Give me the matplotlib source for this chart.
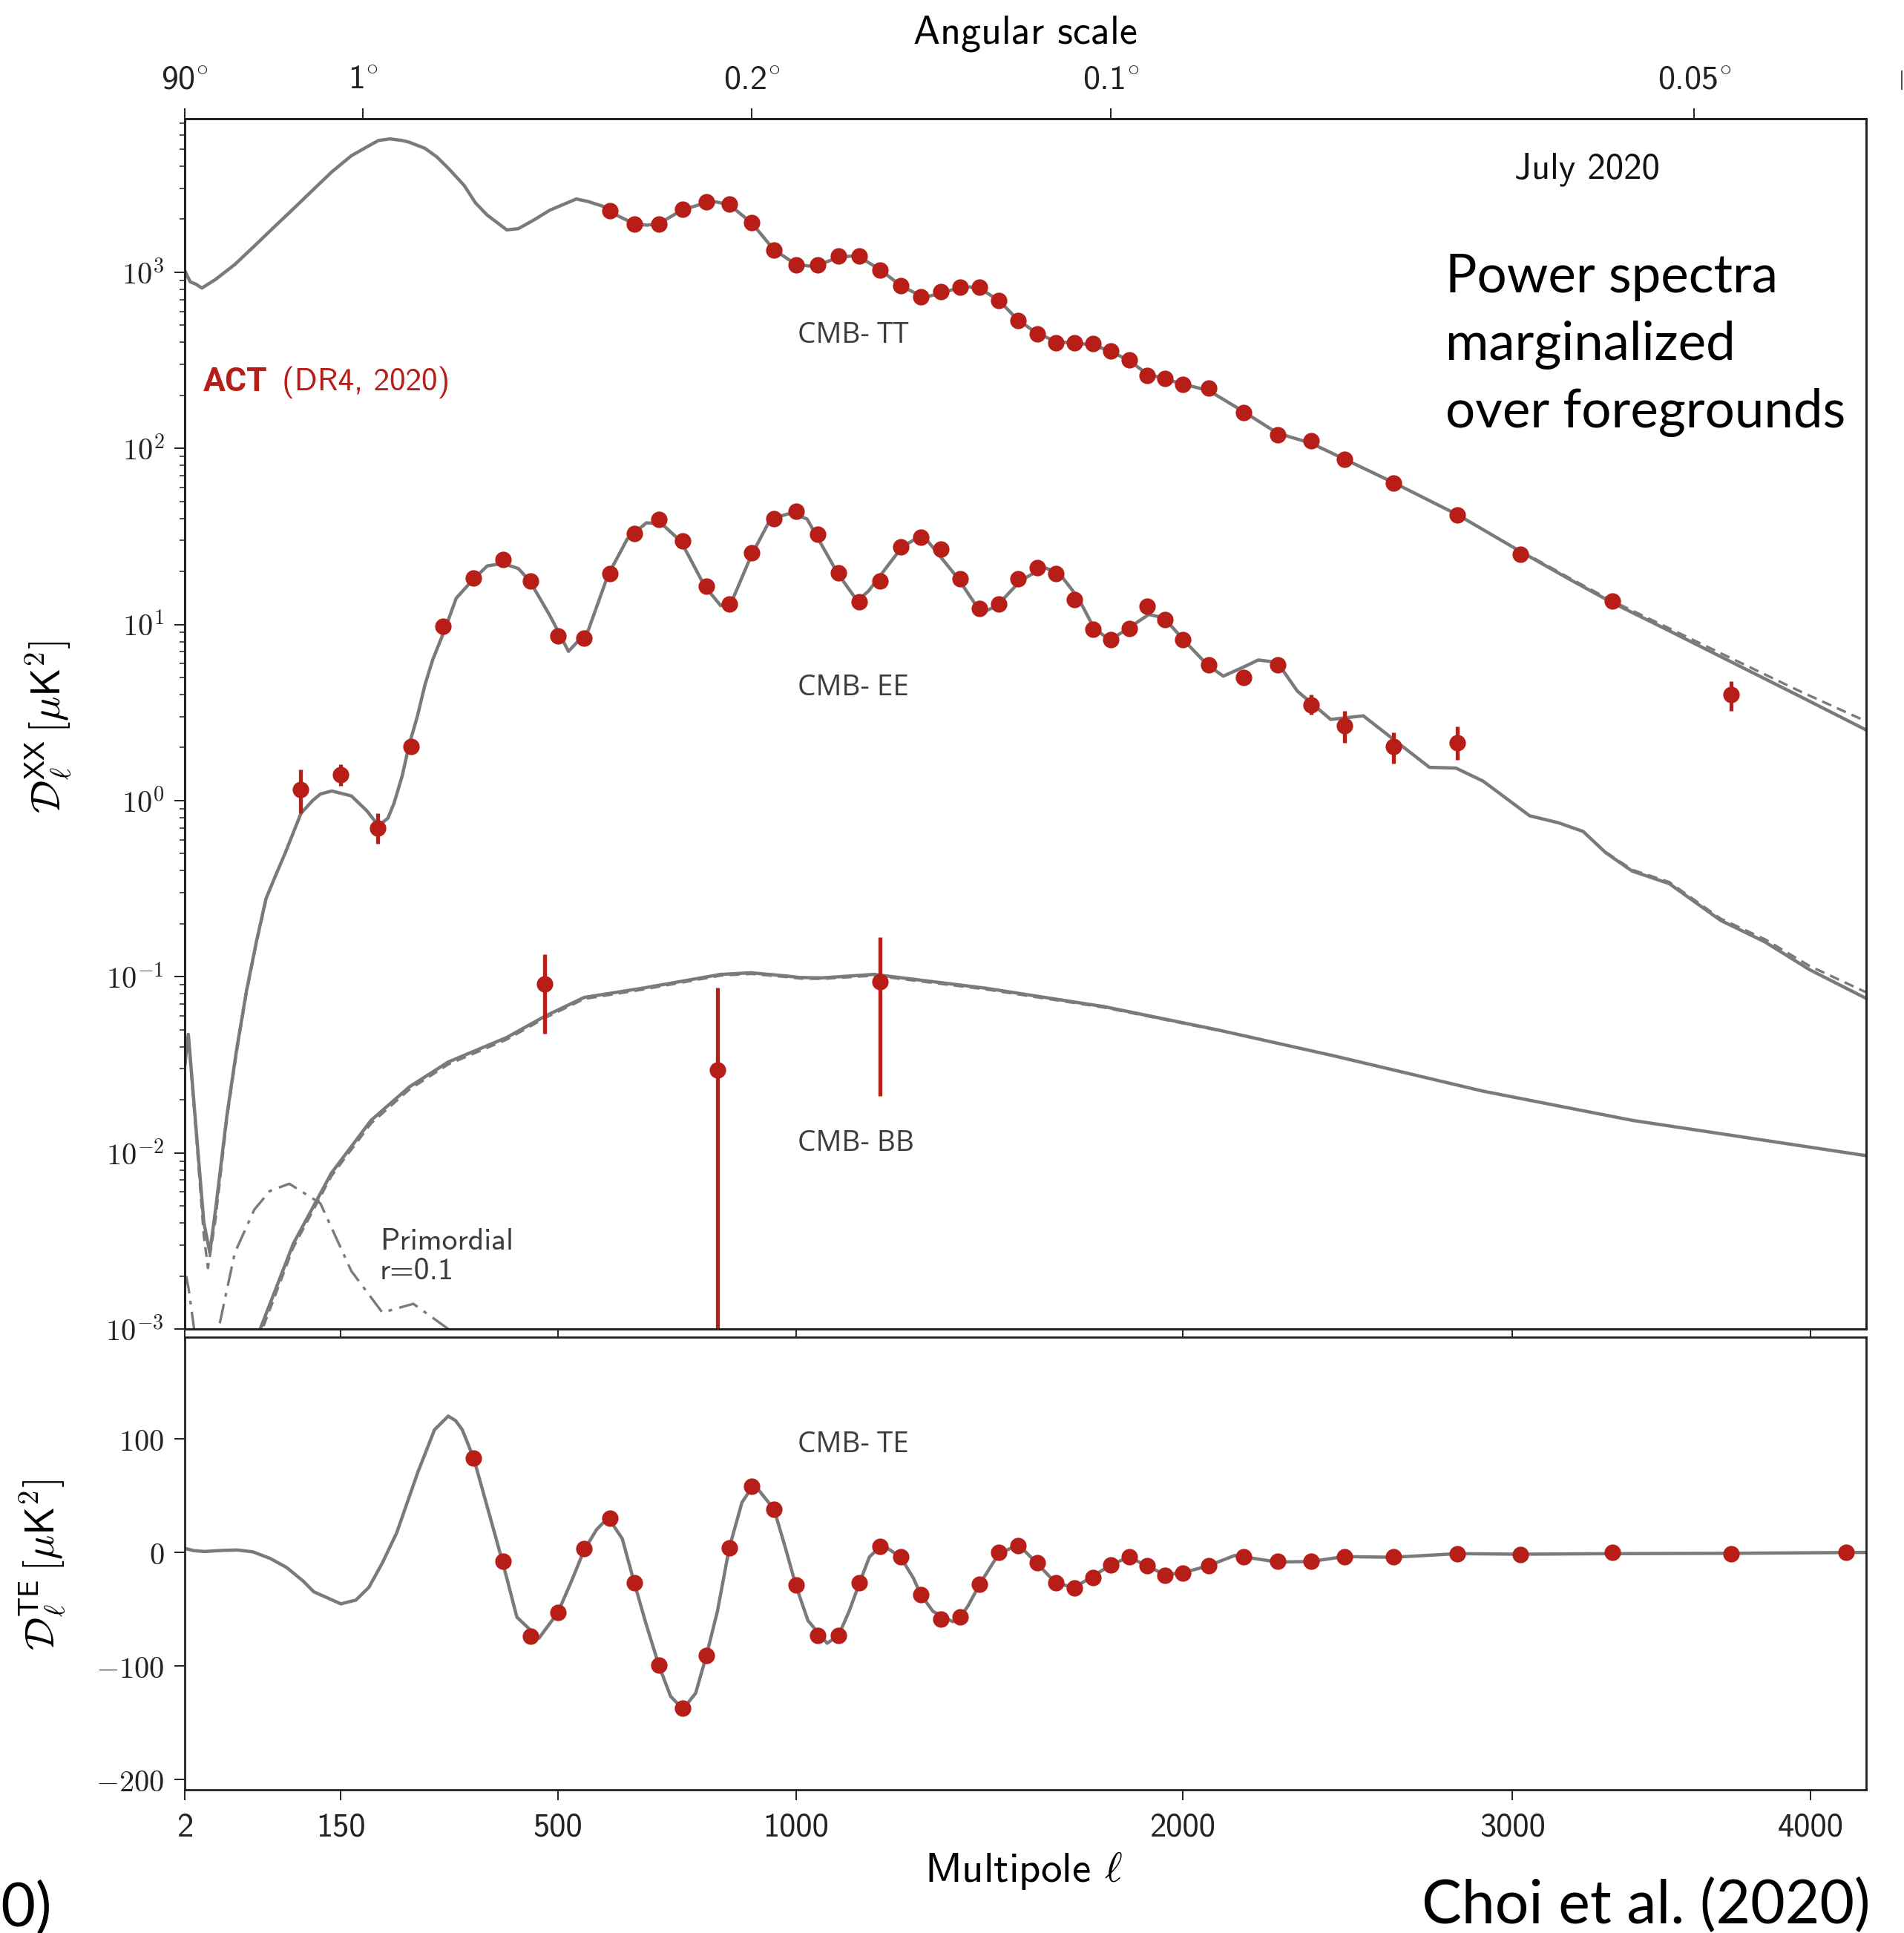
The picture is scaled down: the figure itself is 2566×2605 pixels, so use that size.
import numpy as np
import matplotlib
matplotlib.use('Agg')
import matplotlib.pyplot as plt
from matplotlib.lines import Line2D
from matplotlib.ticker import FixedLocator, FuncFormatter, LogLocator, NullFormatter

plt.rcParams['mathtext.fontset'] = 'cm'
plt.rcParams['font.family'] = ['DejaVu Sans']

W, H = 2566, 2605
RED = '#b81e18'
GREY = '#7a7a7a'
TXT = '#3c3c3c'
SANS = ['cmss10', 'DejaVu Sans']

# ---------------- ACT DR4 band powers ----------------
tt_l = [600, 650, 700, 750, 800, 850, 900, 950, 1000, 1050, 1100, 1150, 1200, 1250,
        1300, 1350, 1400, 1450, 1500, 1550, 1600, 1650, 1700, 1750, 1800, 1850, 1900,
        1950, 2000, 2075, 2175, 2275, 2375, 2475, 2625, 2825, 3025, 3325]
tt_d = [2238, 1875, 1875, 2275, 2506, 2427, 1905, 1337, 1101, 1101, 1233, 1233, 1033, 837,
        725, 773, 824, 824, 691, 533, 447, 399, 399, 393, 357, 318, 259,
        250, 231, 220, 160, 119, 110, 86.5, 63.7, 41.9, 25.0, 13.6]

ee_l = [100, 150, 200, 250, 300, 350, 400, 450, 500, 550, 600, 650, 700, 750, 800, 850,
        900, 950, 1000, 1050, 1100, 1150, 1200, 1250, 1300, 1350, 1400, 1450, 1500, 1550,
        1600, 1650, 1700, 1750, 1800, 1850, 1900, 1950, 2000, 2075, 2175, 2275, 2375,
        2475, 2625, 2825, 3725]
ee_d = [1.16, 1.40, 0.70, 2.03, 9.8, 18.4, 23.5, 17.6, 8.65, 8.37, 19.4, 32.9, 39.3, 29.9,
        16.5, 13.1, 25.5, 39.9, 44.0, 32.4, 19.7, 13.4, 17.6, 27.6, 31.4, 26.7, 18.2, 12.3,
        13.1, 18.2, 21.0, 19.4, 13.8, 9.38, 8.24, 9.53, 12.7, 10.7, 8.24, 5.88, 5.00, 5.88,
        3.51, 2.67, 2.03, 2.13, 3.99]
ee_lo = [0.85, 1.21, 0.57, 2.03, 9.8, 18.4, 23.5, 17.6, 8.65, 8.37, 19.4, 32.9, 39.3, 29.9,
         16.5, 13.1, 25.5, 39.9, 44.0, 32.4, 19.7, 13.4, 17.6, 27.6, 31.4, 26.7, 18.2, 12.3,
         13.1, 18.2, 21.0, 19.4, 13.8, 9.38, 8.24, 9.53, 12.7, 10.7, 8.24, 5.88, 5.00, 5.88,
         3.09, 2.13, 1.62, 1.70, 3.24]
ee_hi = [1.50, 1.60, 0.85, 2.03, 9.8, 18.4, 23.5, 17.6, 8.65, 8.37, 19.4, 32.9, 39.3, 29.9,
         16.5, 13.1, 25.5, 39.9, 44.0, 32.4, 19.7, 13.4, 17.6, 27.6, 31.4, 26.7, 18.2, 12.3,
         13.1, 18.2, 21.0, 19.4, 13.8, 9.38, 8.24, 9.53, 12.7, 10.7, 8.24, 5.88, 5.00, 5.88,
         3.99, 3.24, 2.43, 2.63, 4.77]

bb_l = [475, 824, 1200]
bb_d = [0.0908, 0.0294, 0.0938]
bb_lo = [0.0477, 1e-6, 0.0210]
bb_hi = [0.134, 0.0865, 0.1675]

te_l = [350, 400, 450, 500, 550, 600, 650, 700, 750, 800, 850, 900, 950, 1000, 1050,
        1100, 1150, 1200, 1250, 1300, 1350, 1400, 1450, 1500, 1550, 1600, 1650, 1700,
        1750, 1800, 1850, 1900, 1950, 2000, 2075, 2175, 2275, 2375, 2475, 2625, 2825,
        3025, 3325, 3725, 4125]
te_d = [83, -8, -74, -53, 3, 30, -27, -99, -137, -91, 4, 58, 38, -29, -73,
        -73, -27, 5, -4, -37, -59, -57, -28, 0, 6, -9, -27, -31,
        -22, -11, -4, -12, -20, -18, -12, -4, -8, -8, -4, -4, -1,
        -2, 0, -1, 0]

# ---------------- best-fit theory curves ----------------
tt_th_l = [2, 4.2, 7.1, 10.3, 13.9, 19.1, 34, 51.5, 70.8, 91.9, 114.5, 138.4, 164, 190.6,
           201.5, 218, 236, 247, 271, 289.6, 308, 334, 353, 373, 407, 427.5, 456, 485, 535,
           558, 588, 600, 650, 675, 700, 750, 800, 820, 850, 900, 950, 1000, 1030, 1050,
           1100, 1130, 1150, 1200, 1250, 1300, 1320, 1350, 1400, 1425, 1450, 1500, 1550,
           1600, 1650, 1700, 1750, 1800, 1850, 1900, 1950, 2000, 2075, 2175, 2275,
           2375, 2475, 2625, 2825, 3025, 3181, 3325, 3499, 3695, 3960, 4200]
tt_th_d = [1021, 882, 854, 813, 854, 910, 1107, 1409, 1798, 2287, 2919, 3715, 4590, 5297,
           5600, 5714, 5600, 5470, 5050, 4520, 3897, 3113, 2477, 2111, 1740, 1767, 1983, 2251,
           2606, 2519, 2361, 2200, 1880, 1850, 1890, 2270, 2480, 2510, 2420, 1900, 1340, 1110,
           1085, 1095, 1215, 1235, 1220, 1035, 840, 735, 730, 760, 820, 825, 810, 690, 535,
           450, 405, 395, 388, 355, 315, 265, 248, 232, 213, 162, 122,
           107, 87, 64, 42, 26, 18.2, 13.3, 9.5, 6.5, 3.93, 2.5]
tt_dash_l = [3025, 3181, 3325, 3499, 3695, 3960, 4200]
tt_dash_d = [26.3, 18.5, 13.6, 9.8, 6.8, 4.2, 2.8]

ee_th_l = [2, 3.4, 7.1, 11.4, 15.2, 19.1, 27.7, 35.5, 44.1, 53.3, 62.8, 72, 83.1, 100.8, 114.5,
           124, 138.4, 164, 185, 201.5, 215, 224, 236, 247, 259, 271, 283, 302, 321, 347, 373,
           400, 427.5, 448, 485, 520, 558, 596, 635, 674, 706, 746, 796,
           831, 856, 898, 942, 990, 1026, 1098, 1145, 1172, 1253, 1287, 1316, 1394, 1454,
           1495, 1556, 1618, 1660, 1711, 1753, 1797, 1850, 1905, 1948, 2004, 2071, 2117,
           2173, 2219, 2275, 2334, 2434, 2533, 2629, 2737, 2820, 2906, 3055, 3149, 3229,
           3304, 3391, 3515, 3689, 3842, 3997, 4200]
ee_th_d = [0.0316, 0.0471, 0.0135, 0.00404, 0.00271, 0.00476, 0.01655, 0.0385, 0.0827, 0.157,
           0.277, 0.368, 0.505, 0.847, 1.0, 1.09, 1.134, 1.063, 0.876, 0.721, 0.794, 0.965,
           1.375, 2.10, 2.99, 4.55, 6.29, 9.27, 14.1, 17.7, 21.5, 22.2, 20.8, 17.7, 11.25, 7.04,
           9.27, 18.9, 30.6, 37.8, 37.2, 29.6, 16.6, 12.8, 13.6, 24.4, 39.7, 43.0, 39.7, 19.5,
           13.6, 15.5, 27.4, 30.6, 30.1, 18.3, 11.6, 12.8, 17.7, 21.1, 19.5, 14.1, 9.58, 8.14,
           9.58, 11.4, 10.9, 8.14, 5.90, 5.09, 5.70, 6.29, 6.09, 4.19, 2.89, 3.03, 2.20, 1.545,
           1.53, 1.29, 0.820, 0.748, 0.668, 0.505, 0.398, 0.338, 0.209, 0.1575, 0.1096, 0.0748]
ee_dash_lo_l = [2, 3.4, 7.1, 11.4, 14, 19.1, 27.7, 35.5, 44.1, 53.3, 62.8]
ee_dash_lo_d = [0.030, 0.045, 0.0125, 0.0034, 0.00222, 0.0042, 0.0158, 0.037, 0.080, 0.153, 0.27]
ee_dash_hi_l = [3304, 3391, 3515, 3689, 3842, 3997, 4200]
ee_dash_hi_d = [0.51, 0.405, 0.345, 0.214, 0.163, 0.115, 0.081]

bb_th_l = [45, 55, 92, 138, 191, 247, 308, 407, 477, 550, 666, 831, 898, 976, 1010, 1060,
           1185, 1465, 1782, 2099, 2445, 2906, 3391, 4200]
bb_th_d = [0.0005, 0.00093, 0.00305, 0.0077, 0.0153, 0.0237, 0.0328, 0.0452, 0.0599, 0.0763,
           0.0861, 0.1031, 0.1053, 0.1011, 0.0990, 0.0985, 0.1031, 0.0861, 0.0676, 0.0500,
           0.0355, 0.0224, 0.0153, 0.00962]
bb_dash_l = [45, 55, 92, 138, 191, 247, 308, 407, 477, 550, 666, 831, 898, 976, 1010, 1060,
             1185, 1465, 1782, 2099]
bb_dash_d = [0.00046, 0.00086, 0.0029, 0.0074, 0.0147, 0.0229, 0.0318, 0.0440, 0.0585,
             0.0748, 0.0845, 0.1015, 0.1038, 0.0997, 0.0977, 0.0972, 0.1015, 0.0848, 0.0668,
             0.0497]

prim_l = [2, 2.6, 3.5, 6.05, 7.5, 15, 20.4, 34, 51.5, 66.7, 87.5, 124, 164, 207, 253, 308, 340]
prim_d = [0.0019, 0.00197, 0.0017, 0.001, 0.0006, 0.0006, 0.00093, 0.00271, 0.00477, 0.00607,
          0.00668, 0.00517, 0.00213, 0.00124, 0.00139, 0.001, 0.0007]

te_th_l = [2, 6, 12, 25, 36, 50, 67, 84.6, 103, 116, 150, 170, 188, 207, 228, 260, 286, 308,
           320, 331, 350, 377, 400, 425, 465, 500, 526, 550, 574, 597, 625, 650, 673, 700,
           724, 750, 777, 800, 824, 850, 878, 905, 950, 976, 1000, 1028, 1073, 1100, 1125,
           1150, 1174, 1205, 1250, 1282, 1300, 1331, 1381, 1400, 1420, 1450, 1483, 1500,
           1551, 1600, 1650, 1700, 1750, 1800, 1850, 1900, 1950, 2000, 2075, 2150, 2275,
           2375, 2475, 2625, 2825, 3025, 3325, 3725, 4200]
te_th_d = [3.5, 1.5, 0.8, 1.8, 2.1, 0.5, -5.3, -13.3, -25, -34.7, -45.3, -42, -30.7, -9.3, 17.3,
           70.7, 108, 120, 116, 108, 83, 33, -9, -57, -75.5, -53, -25, 2, 20, 30.7, 12, -28,
           -62.7, -100, -126.7, -138, -124, -91, -52, 4, 44, 60, 38, 4, -29, -60, -80, -73,
           -52, -27, -4, 6.7, -4, -22.7, -37, -52, -61, -57, -47, -28, -10, -1,
           6.7, -9.6, -27, -31, -21, -11, -4, -12, -19.5, -18, -11.7, -2.7, -8.5,
           -8, -3.7, -4.3, -1.1, -1.6, -1.1, -0.8, 0]

ell_ticks = [2, 150, 500, 1000, 2000, 3000, 4000]
ang_ticks = [2, 180, 900, 1800, 3600]
ang_labels = ['90', '1', '0.2', '0.1', '0.05']


def fwd(x):
    x = np.asarray(x, dtype=float)
    return np.sign(x) * np.abs(x) ** 0.7


def inv(u):
    u = np.asarray(u, dtype=float)
    return np.sign(u) * np.abs(u) ** (1 / 0.7)


def fx(px):
    return px / W


def fy(py):
    return 1 - py / H


fig = plt.figure(figsize=(W / 100, H / 100), dpi=100)
ax = fig.add_axes([fx(249), fy(1791), (2515 - 249) / W, (1791 - 160) / H])
bx = fig.add_axes([fx(249), fy(2412), (2515 - 249) / W, (2412 - 1802) / H])

for a in (ax, bx):
    a.set_xscale('function', functions=(fwd, inv))
    a.set_xlim(2, 4196)
    a.xaxis.set_major_locator(FixedLocator(ell_ticks))
    for s in a.spines.values():
        s.set_linewidth(2.0)
        s.set_color('#222222')
    a.tick_params(axis='both', which='major', direction='out', length=10, width=1.4,
                  colors='#222222')
    a.tick_params(axis='both', which='minor', direction='out', length=5, width=1.1,
                  colors='#222222')

lw_th = 3.2
dash = (0, (4, 2.5))

# ---- top panel ----
ax.set_yscale('log')
ax.set_ylim(1e-3, 7440)
ax.yaxis.set_major_locator(FixedLocator([1e-3, 1e-2, 1e-1, 1, 10, 100, 1000]))
ax.yaxis.set_major_formatter(FuncFormatter(lambda v, p: r'$10^{%d}$' % round(np.log10(v))))
ax.yaxis.set_minor_locator(LogLocator(base=10, subs=np.arange(2, 10)))
ax.yaxis.set_minor_formatter(NullFormatter())
ax.tick_params(axis='y', labelsize=29, pad=10)
ax.set_xticklabels([])

ax.plot(tt_dash_l, tt_dash_d, color=GREY, lw=2.4, ls=dash, zorder=1)
ax.plot(ee_dash_lo_l, ee_dash_lo_d, color=GREY, lw=2.4, ls=dash, zorder=1)
ax.plot(ee_dash_hi_l, ee_dash_hi_d, color=GREY, lw=2.4, ls=dash, zorder=1)
ax.plot(bb_dash_l, bb_dash_d, color=GREY, lw=2.4, ls=dash, zorder=1)
ax.plot(tt_th_l, tt_th_d, color=GREY, lw=lw_th, zorder=2)
ax.plot(ee_th_l, ee_th_d, color=GREY, lw=lw_th, zorder=2)
ax.plot(bb_th_l, bb_th_d, color=GREY, lw=lw_th, zorder=2)
ax.plot(prim_l, prim_d, color=GREY, lw=2.4, ls=(0, (8, 3, 1.5, 3)), zorder=2)

ax.plot(tt_l, tt_d, 'o', color=RED, ms=16, mec='none', zorder=5)
ee_err = [np.array(ee_d) - np.array(ee_lo), np.array(ee_hi) - np.array(ee_d)]
ax.errorbar(ee_l, ee_d, yerr=ee_err, fmt='o', color=RED, ms=16, mec='none',
            elinewidth=3.8, capsize=0, zorder=5)
bb_err = [np.array(bb_d) - np.array(bb_lo), np.array(bb_hi) - np.array(bb_d)]
ax.errorbar(bb_l, bb_d, yerr=bb_err, fmt='o', color=RED, ms=16, mec='none',
            elinewidth=3.8, capsize=0, zorder=5)

# top angular axis
ax2 = ax.twiny()
ax2.set_xscale('function', functions=(fwd, inv))
ax2.set_xlim(ax.get_xlim())
ax2.xaxis.set_major_locator(FixedLocator(ang_ticks))
ax2.set_xticklabels([s + r'$^{\circ}$' for s in ang_labels], fontfamily=SANS, fontsize=33)
ax2.tick_params(axis='x', direction='out', length=10, width=1.4, pad=12, colors='#222222')
for s in ax2.spines.values():
    s.set_linewidth(2.0)
    s.set_color('#222222')

# stray mark at the right edge of the angular-scale row
fig.add_artist(Line2D([fx(2563), fx(2563)], [fy(96), fy(120)], color='#555555', lw=1.5))

# ---- bottom panel (TE) ----
bx.set_ylim(-209, 189.5)
bx.yaxis.set_major_locator(FixedLocator([-200, -100, 0, 100]))
bx.yaxis.set_major_formatter(FuncFormatter(lambda v, p: r'$%d$' % v))
bx.tick_params(axis='y', labelsize=29, pad=10)
bx.set_xticklabels([str(t) for t in ell_ticks], fontfamily=SANS, fontsize=32)
bx.tick_params(axis='x', pad=12)
bx.plot(te_th_l, te_th_d, color=GREY, lw=lw_th, zorder=2)
bx.plot(te_l, te_d, 'o', color=RED, ms=16, mec='none', zorder=5)

# ---- labels & annotations ----
fig.text(fx(1382), fy(45), 'Angular scale', fontsize=39, family=SANS, ha='center', va='center')
fig.text(fx(1380), fy(2521), r'Multipole $\ell$', fontsize=41, family=SANS, ha='center',
         va='center')
fig.text(fx(66), fy(980), r'$\mathcal{D}_{\ell}^{\mathsf{XX}}\,[\mu\mathsf{K}^2]$', fontsize=40,
         rotation=90, ha='center', va='center')
fig.text(fx(58), fy(2109), r'$\mathcal{D}_{\ell}^{\mathsf{TE}}\,[\mu\mathsf{K}^2]$', fontsize=40,
         rotation=90, ha='center', va='center')

fig.text(fx(2139), fy(228), 'July 2020', fontsize=35, family=SANS, ha='center', va='center',
         color='#111111')
for i, line in enumerate(['Power spectra', 'marginalized', 'over foregrounds']):
    fig.text(fx(1948), fy(374 + 91 * i), line, fontsize=51, family=['Lato', 'DejaVu Sans'],
             ha='left', va='center', color='black')
fig.text(fx(2521), fy(2568), 'Choi et al. (2020)', fontsize=58, family=['Lato', 'DejaVu Sans'],
         ha='right', va='center', color='black')
fig.text(fx(70), fy(2572), '(2020)', fontsize=58, family=['Lato', 'DejaVu Sans'],
         ha='right', va='center', color='black')

fig.text(fx(274), fy(515), 'ACT', fontsize=32, fontweight='bold', family=['Roboto', 'DejaVu Sans'],
         ha='left', va='center', color=RED)
fig.text(fx(380), fy(515), '(DR4, 2020)', fontsize=31, family=SANS, ha='left', va='center',
         color=RED)

for lab, ypx in [('CMB- TT', 452), ('CMB- EE', 927), ('CMB- BB', 1541), ('CMB- TE', 1947)]:
    fig.text(fx(1075), fy(ypx), lab, fontsize=28, family=['Open Sans', 'DejaVu Sans'],
             ha='left', va='center', color=TXT)

fig.text(fx(512), fy(1673), 'Primordial', fontsize=30, family=SANS, ha='left', va='center',
         color=TXT)
fig.text(fx(512), fy(1714), 'r=0.1', fontsize=30, family=SANS, ha='left', va='center',
         color=TXT)

fig.savefig('out.png', dpi=100, facecolor='white')
